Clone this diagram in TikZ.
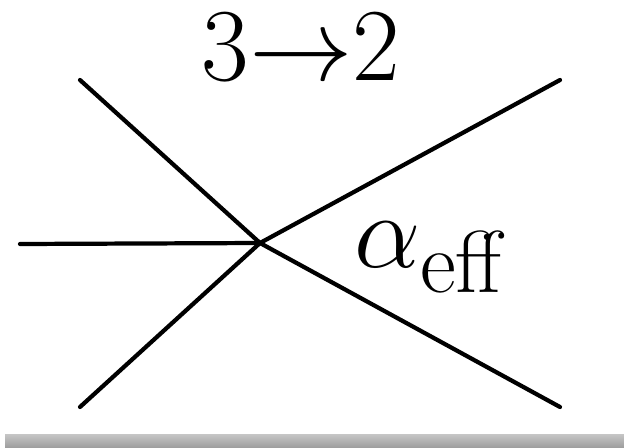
\documentclass[tikz,border=0pt]{standalone}
\usetikzlibrary{positioning}

\begin{document}
\begin{tikzpicture}[x=0.025cm, y=-0.025cm, leg/.style={line width=3pt, line cap=round}, big/.style={font=\Huge, scale=2.9, inner sep=0pt}]
        \useasboundingbox (0,0) rectangle (624,447);
        \fill[white] (0,0) rectangle (624,447);
        \shade[top color=gray!45, bottom color=gray!75] (5,434) rectangle (624,447);
        \coordinate (v) at (260,243);
        \coordinate (n1) at (80,80);
        \coordinate (n2) at (20,244);
        \coordinate (n3) at (80,407);
        \coordinate (n4) at (560,80);
        \coordinate (n5) at (560,407);
        \node[big, scale=1.02] (t1) at (301,47) {3$\rightarrow$2};
        \node[big, scale=1.04] (t2) at (432,257) {$\alpha_{\mathrm{eff}}$};
        \draw[leg] (v) -- (n1);
        \draw[leg] (v) -- (n2);
        \draw[leg] (v) -- (n3);
        \draw[leg] (v) -- (n4);
        \draw[leg] (v) -- (n5);
        \end{tikzpicture}
\end{document}
